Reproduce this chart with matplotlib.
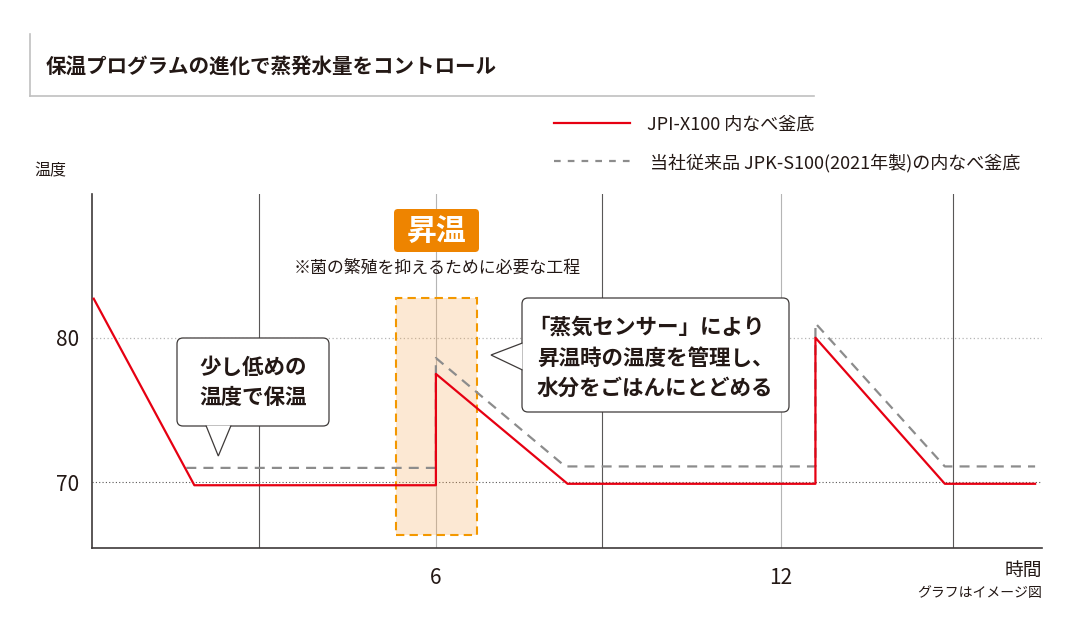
import matplotlib
matplotlib.use("Agg")
import matplotlib.pyplot as plt
from matplotlib.patches import FancyBboxPatch, Polygon, Rectangle
from matplotlib.lines import Line2D
from matplotlib.transforms import Affine2D

plt.rcParams['font.family'] = ['Noto Sans CJK JP', 'DejaVu Sans']

# data (hours, temperature)
new_x = [0.05, 1.8, 6.0, 6.0, 8.29, 12.6, 12.6, 14.85, 16.42]
new_y = [82.7, 69.8, 69.8, 77.5, 69.9, 69.9, 80.0, 69.9, 69.9]
old_x = [1.66, 6.0, 6.0, 8.25, 12.6, 12.6, 14.85, 16.42]
old_y = [71.0, 71.0, 78.6, 71.1, 71.1, 81.0, 71.1, 71.1]

grid_x = [2.92, 6, 8.89, 12, 14.99]
x_ticks = [6, 12]
y_ticks = [70, 80]
new_label = "JPI-X100 内なべ釜底"
old_label = "当社従来品 JPK-S100(2021年製)の内なべ釜底"

txt = '#231815'
red = '#e60012'
gray = '#8c8c8c'
orange = '#f39800'

fig = plt.figure(figsize=(10.8, 6.38), dpi=100)
# pixel coords from top-left
px = Affine2D().scale(1/100, -1/100).translate(0, 6.38) + fig.dpi_scale_trans

ax = fig.add_axes([92/1080, 90/638, 950/1080, 354/638])
ax.set_xlim(0.02, 16.54)
ax.set_ylim(65.46, 89.94)

for g in grid_x:
    c = '#b5b5b5' if g in x_ticks else '#595757'
    ax.axvline(g, color=c, lw=0.8, zorder=1)
ax.axhline(80, color='#b5b5b5', lw=0.9, ls=(0, (1, 2)), zorder=1)
ax.axhline(70, color='#595757', lw=0.8, ls=(0, (1, 2)), zorder=1)

# highlighted heating step
ax.add_patch(Rectangle((5.3, 66.36), 1.41, 16.38, facecolor='#f7a650', alpha=0.25,
                       edgecolor='none', zorder=2))
ax.add_patch(Rectangle((5.3, 66.36), 1.41, 16.38, facecolor='none', edgecolor=orange,
                       lw=1.5, ls=(0, (4, 2.5)), zorder=2.5))

ax.plot(old_x, old_y, color=gray, lw=1.6, dashes=(4.5, 3.2), zorder=3)
ax.plot(new_x, new_y, color=red, lw=1.6, zorder=4)

for s in ['top', 'right']:
    ax.spines[s].set_visible(False)
for s in ['left', 'bottom']:
    ax.spines[s].set_color('#3e3a39')
    ax.spines[s].set_linewidth(1.2)

ax.set_xticks(x_ticks)
ax.set_yticks(y_ticks)
ax.tick_params(length=0, labelsize=15, colors=txt)
ax.tick_params(axis='x', pad=14)
ax.tick_params(axis='y', pad=9)

# callouts
def callout(rect, tail, lines, xs, ys, ha):
    bx = FancyBboxPatch(rect[:2], rect[2], rect[3], boxstyle="round,pad=0,rounding_size=6",
                        facecolor='white', edgecolor='#3e3a39', lw=0.9,
                        transform=px, clip_on=False, zorder=5)
    ax.add_patch(bx)
    tl = Polygon(tail, closed=False, facecolor='white', edgecolor='#3e3a39', lw=0.9,
                 transform=px, clip_on=False, zorder=5.5)
    ax.add_patch(tl)
    for t, x, y in zip(lines, xs, ys):
        ax.text(x, y, t, transform=px, ha=ha, va='center', fontsize=15.5,
                fontweight='bold', color=txt, zorder=6)

callout((177, 338, 152, 88), [(206, 425.5), (218.3, 456), (231, 425.5)],
        ["少し低めの", "温度で保温"], [253.5, 253.5], [367, 398], 'center')
callout((522, 298, 267, 114), [(522.5, 343), (491, 355), (522.5, 370)],
        ["「蒸気センサー」により", "昇温時の温度を管理し、", "水分をごはんにとどめる"],
        [528, 537, 537], [326.7, 358.3, 388.3], 'left')

# heating label
ax.add_patch(FancyBboxPatch((394, 209), 85, 43, boxstyle="round,pad=0,rounding_size=4",
                            facecolor='#ee8400', edgecolor='none', transform=px,
                            clip_on=False, zorder=5))
ax.text(436.5, 231, "昇温", transform=px, ha='center', va='center', fontsize=21.5,
        fontweight='bold', color='white', zorder=6)
ax.text(436.7, 267.5, "※菌の繁殖を抑えるために必要な工程", transform=px, ha='center',
        va='center', fontsize=12.2, color=txt, zorder=6)

# title block
fig.add_artist(Line2D([30, 30], [34, 96], transform=px, color='#c0c0c0', lw=1.2))
fig.add_artist(Line2D([30, 814], [96, 96], transform=px, color='#c0c0c0', lw=1.2))
fig.text(46, 67, "保温プログラムの進化で蒸発水量をコントロール", transform=px,
         ha='left', va='center', fontsize=14.8, fontweight='bold', color=txt)

# legend
fig.add_artist(Line2D([554, 630], [123, 123], transform=px, color=red, lw=1.6))
fig.add_artist(Line2D([554, 630], [161, 161], transform=px, color=gray, lw=1.6,
                      dashes=(3, 3.2)))
fig.text(647, 125, new_label, transform=px, ha='left', va='center', fontsize=13, color=txt)
fig.text(650, 163, old_label, transform=px, ha='left', va='center', fontsize=13, color=txt)

fig.text(34, 171, "温度", transform=px, ha='left', va='center', fontsize=11.5, color=txt)
fig.text(1042, 570, "時間", transform=px, ha='right', va='center', fontsize=13.5, color=txt)
fig.text(1042, 593, "グラフはイメージ図", transform=px, ha='right', va='center',
         fontsize=10, color=txt)

fig.savefig("out.png", dpi=100)
